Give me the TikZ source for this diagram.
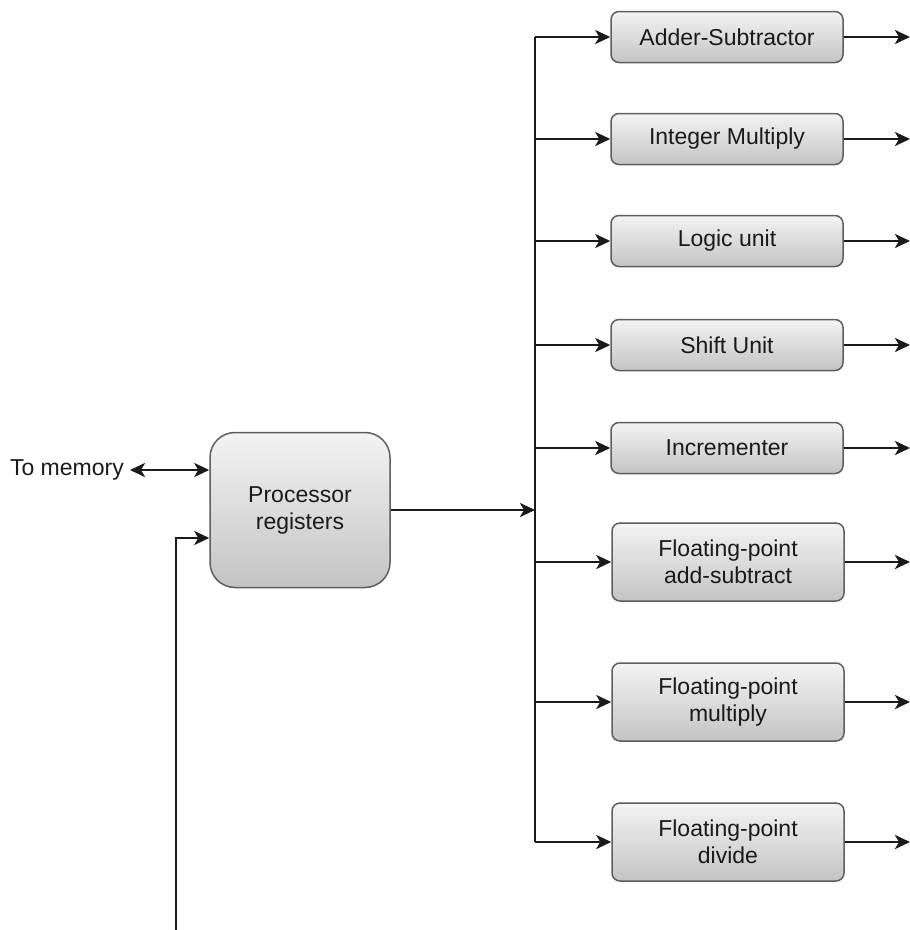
\documentclass[tikz,border=0pt]{standalone}
\usepackage{fontspec}
\setmainfont{Liberation Sans}
\usetikzlibrary{arrows.meta,positioning,calc}
\definecolor{fuink}{HTML}{1A1A1A}
\definecolor{fuedge}{HTML}{5E5E5E}
\definecolor{futop}{HTML}{F3F3F3}
\definecolor{fubot}{HTML}{C4C4C4}
\begin{document}
\begin{tikzpicture}[
  x=1pt,y=-1pt,
  every node/.style={font=\fontsize{23}{27}\selectfont,align=center,text=fuink},
  unit/.style={draw=fuedge,line width=1.5pt,rounded corners=8pt,top color=futop,bottom color=fubot,minimum width=232pt,minimum height=51pt,inner sep=0pt},
  tallunit/.style={unit,minimum height=78pt},
  regs/.style={unit,rounded corners=25pt,minimum width=180pt,minimum height=155pt},
  wire/.style={line width=2.6pt,color=fuink},
  arrow/.style={wire,-{Stealth[length=15pt,width=14pt,inset=4pt]}},
  biarrow/.style={wire,{Stealth[length=15pt,width=14pt,inset=4pt]}-{Stealth[length=15pt,width=14pt,inset=4pt]}}
]
\useasboundingbox (0,0) rectangle (910,930);
\node[regs] (procregs) at (300,510) {Processor\\registers};
\node[anchor=east,inner sep=2pt] (tomem) at (126,470) {To memory};
\node[unit] (addsub) at (727,37) {Adder-Subtractor};
\node[unit] (intmul) at (727,139) {Integer Multiply};
\node[unit] (logic) at (727,241) {Logic unit};
\node[unit] (shift) at (727,345) {Shift Unit};
\node[unit] (incr) at (727,448) {Incrementer};
\node[tallunit] (fpadd) at (728,562) {Floating-point\\add-subtract};
\node[tallunit] (fpmul) at (728,702) {Floating-point\\multiply};
\node[tallunit] (fpdiv) at (728,842) {Floating-point\\divide};
\coordinate (bus) at (535,0);
\coordinate (out) at (910,0);
\coordinate (inbot) at (176,930);
% memory and input side
\draw[biarrow] ($(tomem.east)+(4,0)$) -- (tomem.east -| procregs.west);
\draw[arrow] (inbot) |- ($(procregs.west)+(0,28)$);
% bus
\draw[arrow] (procregs) -- (procregs -| bus);
\draw[wire] (bus |- addsub) -- (bus |- fpdiv);
\draw[arrow] (bus |- addsub) -- (addsub);
\draw[arrow] (bus |- intmul) -- (intmul);
\draw[arrow] (bus |- logic) -- (logic);
\draw[arrow] (bus |- shift) -- (shift);
\draw[arrow] (bus |- incr) -- (incr);
\draw[arrow] (bus |- fpadd) -- (fpadd);
\draw[arrow] (bus |- fpmul) -- (fpmul);
\draw[arrow] (bus |- fpdiv) -- (fpdiv);
% outputs
\draw[arrow] (addsub) -- (addsub -| out);
\draw[arrow] (intmul) -- (intmul -| out);
\draw[arrow] (logic) -- (logic -| out);
\draw[arrow] (shift) -- (shift -| out);
\draw[arrow] (incr) -- (incr -| out);
\draw[arrow] (fpadd) -- (fpadd -| out);
\draw[arrow] (fpmul) -- (fpmul -| out);
\draw[arrow] (fpdiv) -- (fpdiv -| out);
\end{tikzpicture}
\end{document}
